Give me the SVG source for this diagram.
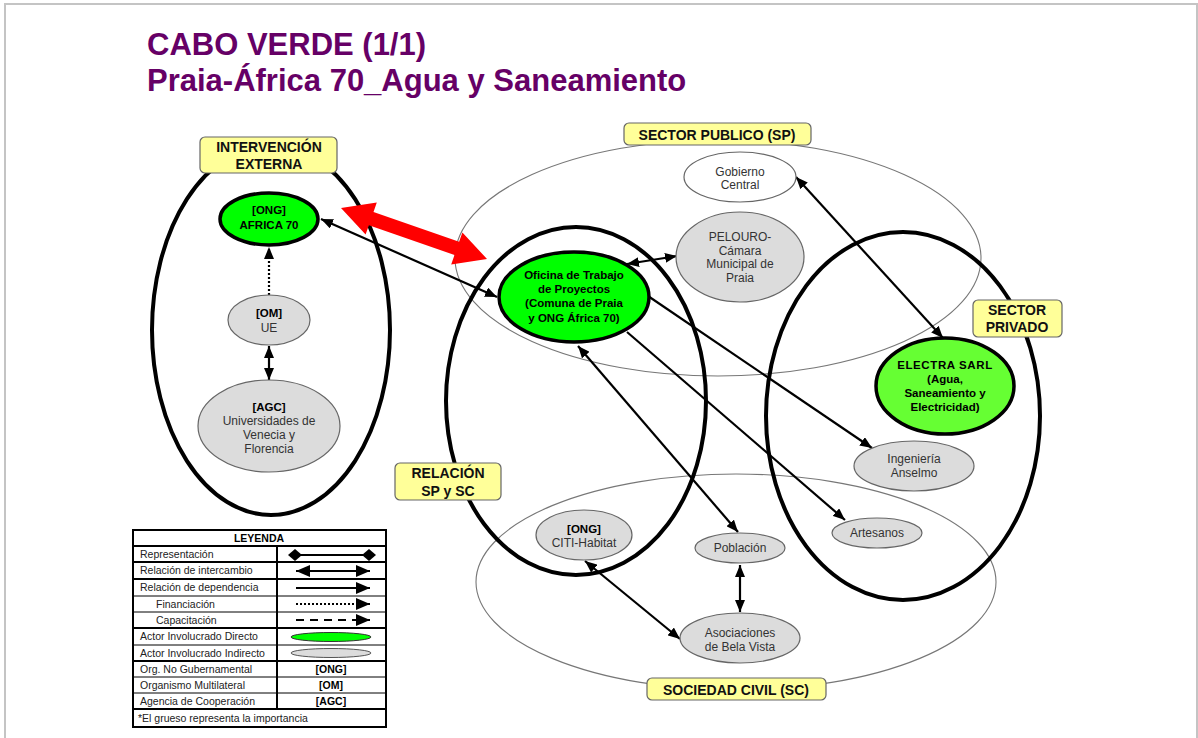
<svg xmlns="http://www.w3.org/2000/svg" width="1198" height="738" viewBox="0 0 1198 738">
<defs>
<style>
.frame{fill:none;stroke:#c4c4c4;stroke-width:2}
.thin{fill:none;stroke:#777;stroke-width:1.1}
.thick{fill:none;stroke:#000;stroke-width:4}
.lbl rect{fill:#ffff99;stroke:#666;stroke-width:1.2}
.lbl text{font-family:"Liberation Sans",Arial,sans-serif;font-weight:bold;font-size:14px;fill:#111;text-anchor:middle}
.con{fill:none;stroke:#000;stroke-width:2.2}
.gray{fill:#dcdcdc;stroke:#666;stroke-width:1.2}
.white{fill:#fff;stroke:#666;stroke-width:1.2}
.green{fill:#00ff00;stroke:#000;stroke-width:3.5}
.lime{fill:#66ff33;stroke:#000;stroke-width:3.5}
.t{font-family:"Liberation Sans",Arial,sans-serif;font-size:12px;fill:#333;text-anchor:middle}
.b{font-family:"Liberation Sans",Arial,sans-serif;font-size:11.5px;font-weight:bold;fill:#000;text-anchor:middle}
.title{font-family:"Liberation Sans",Arial,sans-serif;font-size:31px;font-weight:bold;fill:#660066}
.lg{font-family:"Liberation Sans",Arial,sans-serif;font-size:10.5px;fill:#222}
.lgb{font-family:"Liberation Sans",Arial,sans-serif;font-size:10.5px;font-weight:bold;fill:#000;text-anchor:middle}
.lgline{stroke:#000;stroke-width:2;fill:none}
</style>
<marker id="ah" markerUnits="userSpaceOnUse" markerWidth="12" markerHeight="10" refX="12" refY="5" orient="auto-start-reverse" viewBox="0 0 12 10">
<path d="M0,0 L12,5 L0,10 z" fill="#000"/>
</marker>
<marker id="lah" markerUnits="userSpaceOnUse" markerWidth="14" markerHeight="12" refX="14" refY="6" orient="auto-start-reverse" viewBox="0 0 14 12">
<path d="M0,0 L14,6 L0,12 z" fill="#000"/>
</marker>
<marker id="dia" markerUnits="userSpaceOnUse" markerWidth="14" markerHeight="12" refX="7" refY="6" orient="auto" viewBox="0 0 14 12">
<path d="M0,6 L7,0 L14,6 L7,12 z" fill="#000"/>
</marker>
</defs>

<rect width="1198" height="738" fill="#fff"/>
<path class="frame" d="M5,738 V4 H1197 V738"/>

<g id="title">
<text class="title" x="147" y="55">CABO VERDE (1/1)</text>
<text class="title" x="147" y="91">Praia-África 70_Agua y Saneamiento</text>
</g>

<g id="areas">
<ellipse id="area-sp" class="thin" cx="718" cy="258" rx="263" ry="118"/>
<ellipse id="area-sc" class="thin" cx="736" cy="582" rx="260" ry="108"/>
<ellipse id="area-ext" class="thick" cx="271" cy="330" rx="119" ry="185"/>
<ellipse id="area-rel" class="thick" cx="576" cy="401" rx="130" ry="174"/>
<ellipse id="area-priv" class="thick" cx="903" cy="416" rx="137" ry="184"/>
</g>

<g id="labels">
<g id="lbl-ext" class="lbl"><rect x="200" y="137" width="137" height="36" rx="5"/><text x="269" y="152">INTERVENCIÓN</text><text x="269" y="169">EXTERNA</text></g>
<g id="lbl-sp" class="lbl"><rect x="624" y="123" width="187" height="22" rx="5"/><text x="717" y="140">SECTOR PUBLICO (SP)</text></g>
<g id="lbl-priv" class="lbl"><rect x="973" y="300" width="89" height="37" rx="5"/><text x="1017" y="315">SECTOR</text><text x="1017" y="332">PRIVADO</text></g>
<g id="lbl-rel" class="lbl"><rect x="395" y="463" width="106" height="37" rx="5"/><text x="448" y="478">RELACIÓN</text><text x="448" y="496">SP y SC</text></g>
<g id="lbl-sc" class="lbl"><rect x="647" y="678" width="179" height="22" rx="5"/><text x="736" y="695">SOCIEDAD CIVIL (SC)</text></g>
</g>

<g id="connectors">
<polygon id="big-arrow" fill="#ff0000" points="341,208 365.6,234.6 368.9,225.2 454.5,255 451.2,264.4 487,259 462.4,232.4 459.1,241.8 373.5,212 376.8,202.6"/>
<line class="con" x1="321" y1="219" x2="497" y2="297" marker-start="url(#ah)" marker-end="url(#ah)"/>
<line class="con" x1="627" y1="264" x2="677" y2="256" marker-start="url(#ah)" marker-end="url(#ah)"/>
<line class="con" x1="796" y1="177" x2="943" y2="338" marker-start="url(#ah)" marker-end="url(#ah)"/>
<line class="con" x1="648" y1="296" x2="872" y2="448" marker-end="url(#ah)"/>
<line class="con" x1="627" y1="332" x2="845" y2="520" marker-end="url(#ah)"/>
<line class="con" x1="578" y1="346" x2="738" y2="532" marker-start="url(#ah)" marker-end="url(#ah)"/>
<line class="con" x1="585" y1="561" x2="680" y2="639" marker-start="url(#ah)" marker-end="url(#ah)"/>
<line class="con" x1="740" y1="565" x2="740" y2="612" marker-start="url(#ah)" marker-end="url(#ah)"/>
<line class="con" x1="269" y1="295" x2="269" y2="247" stroke-width="3" stroke-dasharray="2,2" marker-end="url(#ah)"/>
<line class="con" x1="269" y1="346" x2="269" y2="380" marker-start="url(#ah)" marker-end="url(#ah)"/>
</g>

<g id="africa70"><ellipse class="green" cx="269" cy="219" rx="49" ry="26"/><text class="b" x="269" y="214">[ONG]</text><text class="b" x="269" y="229">AFRICA 70</text></g>
<g id="ue"><ellipse class="gray" cx="269" cy="320" rx="41" ry="25"/><text class="b" x="269" y="317">[OM]</text><text class="t" x="269" y="332">UE</text></g>
<g id="agc"><ellipse class="gray" cx="269" cy="426" rx="71" ry="46"/><text class="b" x="269" y="411">[AGC]</text><text class="t" x="269" y="425">Universidades de</text><text class="t" x="269" y="439">Venecia y</text><text class="t" x="269" y="453">Florencia</text></g>
<g id="gobierno"><ellipse class="white" cx="740" cy="177" rx="56" ry="25"/><text class="t" x="740" y="176">Gobierno</text><text class="t" x="740" y="189">Central</text></g>
<g id="pelouro"><ellipse class="gray" cx="740" cy="257" rx="64" ry="45"/><text class="t" x="740" y="241">PELOURO-</text><text class="t" x="740" y="255">Cámara</text><text class="t" x="740" y="268">Municipal de</text><text class="t" x="740" y="282">Praia</text></g>
<g id="oficina"><ellipse class="green" cx="574" cy="297" rx="75" ry="45"/><text class="b" x="574" y="279">Oficina de Trabajo</text><text class="b" x="574" y="293">de Proyectos</text><text class="b" x="574" y="307">(Comuna de Praia</text><text class="b" x="574" y="322">y ONG África 70)</text></g>
<g id="electra"><ellipse class="lime" cx="945" cy="386" rx="69" ry="48"/><text class="b" x="945" y="369" letter-spacing="0.6">ELECTRA SARL</text><text class="b" x="945" y="383">(Agua,</text><text class="b" x="945" y="397">Saneamiento y</text><text class="b" x="945" y="411">Electricidad)</text></g>
<g id="ingenieria"><ellipse class="gray" cx="914" cy="466" rx="60" ry="25"/><text class="t" x="914" y="463">Ingeniería</text><text class="t" x="914" y="477">Anselmo</text></g>
<g id="artesanos"><ellipse class="gray" cx="877" cy="533" rx="45" ry="15"/><text class="t" x="877" y="537">Artesanos</text></g>
<g id="citi"><ellipse class="gray" cx="584" cy="535" rx="48" ry="25"/><text class="b" x="584" y="533">[ONG]</text><text class="t" x="584" y="547">CITI-Habitat</text></g>
<g id="poblacion"><ellipse class="gray" cx="740" cy="548" rx="45" ry="15"/><text class="t" x="740" y="552">Población</text></g>
<g id="asociaciones"><ellipse class="gray" cx="740" cy="638" rx="60" ry="25"/><text class="t" x="740" y="637">Asociaciones</text><text class="t" x="740" y="651">de Bela Vista</text></g>

<g id="legend">
<rect x="133" y="530" width="253" height="197" fill="#fff" stroke="#000" stroke-width="2"/>
<g stroke="#000" stroke-width="2">
<line x1="133" y1="546" x2="386" y2="546"/>
<line x1="133" y1="562" x2="386" y2="562"/>
<line x1="133" y1="579" x2="386" y2="579"/>
<line x1="133" y1="628" x2="386" y2="628"/>
<line x1="133" y1="661" x2="386" y2="661"/>
<line x1="133" y1="709" x2="386" y2="709"/>
<line x1="277" y1="546" x2="277" y2="709"/>
</g>
<g stroke="#000" stroke-width="1">
<line x1="133" y1="596" x2="386" y2="596"/>
<line x1="133" y1="612" x2="386" y2="612"/>
<line x1="133" y1="645" x2="386" y2="645"/>
<line x1="133" y1="677" x2="386" y2="677"/>
<line x1="133" y1="693" x2="386" y2="693"/>
</g>
<text class="lgb" x="259" y="542">LEYENDA</text>
<text class="lg" x="140" y="558">Representación</text>
<text class="lg" x="140" y="574">Relación de intercambio</text>
<text class="lg" x="140" y="591">Relación de dependencia</text>
<text class="lg" x="156" y="608">Financiación</text>
<text class="lg" x="156" y="624">Capacitación</text>
<text class="lg" x="140" y="640">Actor Involucrado Directo</text>
<text class="lg" x="140" y="657">Actor Involucrado Indirecto</text>
<text class="lg" x="140" y="673">Org. No Gubernamental</text>
<text class="lg" x="140" y="689">Organismo Multilateral</text>
<text class="lg" x="140" y="705">Agencia de Cooperación</text>
<text class="lg" x="138" y="722">*El grueso representa la importancia</text>
<line class="lgline" x1="295" y1="555" x2="369" y2="555" stroke-width="1.5" marker-start="url(#dia)" marker-end="url(#dia)"/>
<line class="lgline" x1="296" y1="571" x2="370" y2="571" marker-start="url(#lah)" marker-end="url(#lah)"/>
<line class="lgline" x1="296" y1="588" x2="370" y2="588" marker-end="url(#lah)"/>
<line class="lgline" x1="296" y1="604" x2="370" y2="604" stroke-dasharray="2,2" marker-end="url(#lah)"/>
<line class="lgline" x1="296" y1="620" x2="370" y2="620" stroke-dasharray="8,6" marker-end="url(#lah)"/>
<ellipse cx="331" cy="637" rx="40" ry="4.5" fill="#00ff00" stroke="#333" stroke-width="1"/>
<ellipse cx="331" cy="653" rx="40" ry="4.5" fill="#dcdcdc" stroke="#555" stroke-width="1"/>
<text class="lgb" x="331" y="673">[ONG]</text>
<text class="lgb" x="331" y="689">[OM]</text>
<text class="lgb" x="331" y="705">[AGC]</text>
</g>
</svg>
